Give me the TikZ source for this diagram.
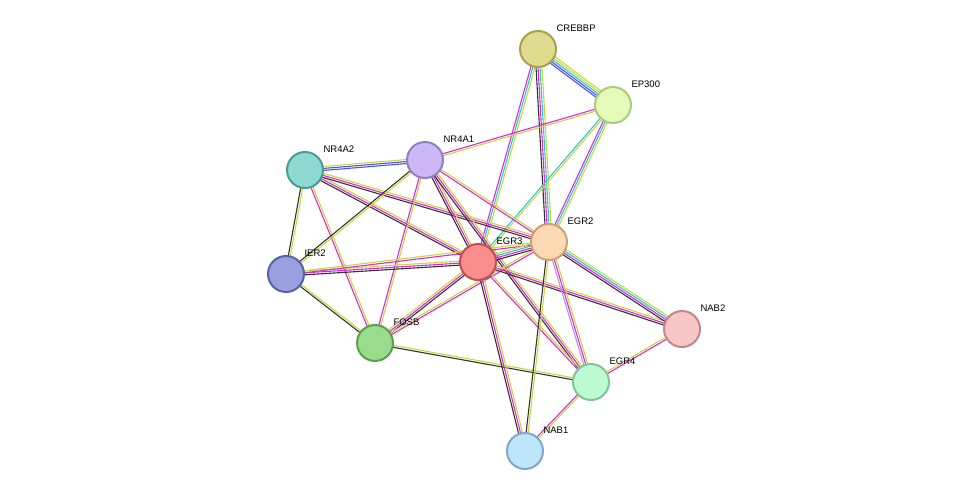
\documentclass[tikz,border=0pt]{standalone}
\usepackage{fontspec}
\setmainfont{Liberation Sans}
\usetikzlibrary{calc}

\definecolor{cCo}{RGB}{50,50,50}
\definecolor{cTm}{RGB}{200,215,60}
\definecolor{cEx}{RGB}{220,40,220}
\definecolor{cDb}{RGB}{40,200,210}
\definecolor{cCu}{RGB}{80,80,240}
\definecolor{cHo}{RGB}{170,150,250}

\tikzset{
  prot/.style={circle,minimum size=36pt,inner sep=0pt,line width=2pt},
  plabel/.style={anchor=west,font=\fontsize{9.5}{11}\selectfont},
}

% one string of parallel lines per evidence colour
\newcommand\ppilink[4]{%
  \foreach \c [count=\i] in {#4} {%
    \pgfmathsetmacro\o{(\i-(#3+1)/2)*2}
    \draw[\c,line width=1.1pt] ($(#1)!\o pt!90:(#2)$) -- ($(#2)!\o pt!-90:(#1)$);
  }%
}

\begin{document}
\begin{tikzpicture}[x=1pt,y=-1pt]
\useasboundingbox (0,0) rectangle (975,497);

\coordinate (crebbp) at (538,49);
\coordinate (ep300) at (613,105);
\coordinate (nr4a2) at (305,170);
\coordinate (nr4a1) at (425,160);
\coordinate (egr2) at (549,242);
\coordinate (egr3) at (478,262);
\coordinate (ier2) at (286,274);
\coordinate (fosb) at (375,343);
\coordinate (nab2) at (682,329);
\coordinate (egr4) at (591,382);
\coordinate (nab1) at (525,451);

% edges
\ppilink{crebbp}{ep300}{5}{cCu,cCu,cDb,cTm,cTm}
\ppilink{crebbp}{egr3}{3}{cEx,cDb,cTm}
\ppilink{crebbp}{egr2}{4}{cCo,cEx,cDb,cTm}
\ppilink{ep300}{egr3}{2}{cDb,cTm}
\ppilink{ep300}{egr2}{3}{cEx,cDb,cTm}
\ppilink{ep300}{nr4a1}{2}{cEx,cTm}
\ppilink{nr4a2}{nr4a1}{3}{cCu,cCu,cTm}
\ppilink{nr4a2}{ier2}{2}{cCo,cTm}
\ppilink{nr4a2}{fosb}{2}{cEx,cTm}
\ppilink{nr4a2}{egr3}{3}{cCo,cEx,cTm}
\ppilink{nr4a2}{egr2}{3}{cCo,cEx,cTm}
\ppilink{nr4a1}{ier2}{2}{cCo,cTm}
\ppilink{nr4a1}{fosb}{2}{cEx,cTm}
\ppilink{nr4a1}{egr3}{3}{cCo,cEx,cTm}
\ppilink{nr4a1}{egr2}{2}{cEx,cTm}
\ppilink{nr4a1}{egr4}{3}{cCo,cEx,cTm}
\ppilink{ier2}{egr3}{3}{cCo,cEx,cTm}
\ppilink{ier2}{egr2}{2}{cEx,cTm}
\ppilink{ier2}{fosb}{2}{cCo,cTm}
\ppilink{fosb}{egr3}{3}{cCo,cEx,cTm}
\ppilink{fosb}{egr2}{2}{cEx,cTm}
\ppilink{fosb}{egr4}{2}{cCo,cTm}
\ppilink{egr3}{egr2}{4}{cCo,cEx,cDb,cTm}
\ppilink{egr3}{nab2}{3}{cCo,cEx,cTm}
\ppilink{egr3}{egr4}{2}{cEx,cTm}
\ppilink{egr3}{nab1}{3}{cCo,cEx,cTm}
\ppilink{egr2}{nab2}{4}{cCo,cEx,cDb,cTm}
\ppilink{egr2}{egr4}{3}{cHo,cEx,cTm}
\ppilink{egr2}{nab1}{2}{cCo,cTm}
\ppilink{egr4}{nab2}{2}{cEx,cTm}
\ppilink{egr4}{nab1}{2}{cEx,cTm}

% proteins
\node[prot,fill={rgb,255:red,224;green,220;blue,143},draw={rgb,255:red,168;green,162;blue,78}] (n-crebbp) at (crebbp) {};
\node[prot,fill={rgb,255:red,228;green,251;blue,184},draw={rgb,255:red,168;green,204;blue,128}] (n-ep300) at (ep300) {};
\node[prot,fill={rgb,255:red,142;green,217;blue,209},draw={rgb,255:red,74;green,156;blue,144}] (n-nr4a2) at (nr4a2) {};
\node[prot,fill={rgb,255:red,203;green,184;blue,245},draw={rgb,255:red,144;green,128;blue,192}] (n-nr4a1) at (nr4a1) {};
\node[prot,fill={rgb,255:red,253;green,217;blue,180},draw={rgb,255:red,208;green,160;blue,112}] (n-egr2) at (egr2) {};
\node[prot,fill={rgb,255:red,252;green,141;blue,141},draw={rgb,255:red,192;green,80;blue,80}] (n-egr3) at (egr3) {};
\node[prot,fill={rgb,255:red,154;green,160;blue,223},draw={rgb,255:red,88;green,96;blue,168}] (n-ier2) at (ier2) {};
\node[prot,fill={rgb,255:red,154;green,220;blue,142},draw={rgb,255:red,90;green,160;blue,80}] (n-fosb) at (fosb) {};
\node[prot,fill={rgb,255:red,247;green,198;blue,198},draw={rgb,255:red,192;green,136;blue,136}] (n-nab2) at (nab2) {};
\node[prot,fill={rgb,255:red,189;green,251;blue,210},draw={rgb,255:red,128;green,196;blue,152}] (n-egr4) at (egr4) {};
\node[prot,fill={rgb,255:red,190;green,230;blue,251},draw={rgb,255:red,128;green,168;blue,200}] (n-nab1) at (nab1) {};

% labels
\node[plabel] (l-crebbp) at ($(crebbp)+(15,-21)$) {CREBBP};
\node[plabel] (l-ep300) at ($(ep300)+(15,-21)$) {EP300};
\node[plabel] (l-nr4a2) at ($(nr4a2)+(15,-21)$) {NR4A2};
\node[plabel] (l-nr4a1) at ($(nr4a1)+(15,-21)$) {NR4A1};
\node[plabel] (l-egr2) at ($(egr2)+(15,-21)$) {EGR2};
\node[plabel] (l-egr3) at ($(egr3)+(15,-21)$) {EGR3};
\node[plabel] (l-ier2) at ($(ier2)+(15,-21)$) {IER2};
\node[plabel] (l-fosb) at ($(fosb)+(15,-21)$) {FOSB};
\node[plabel] (l-nab2) at ($(nab2)+(15,-21)$) {NAB2};
\node[plabel] (l-egr4) at ($(egr4)+(15,-21)$) {EGR4};
\node[plabel] (l-nab1) at ($(nab1)+(15,-21)$) {NAB1};
\end{tikzpicture}
\end{document}
